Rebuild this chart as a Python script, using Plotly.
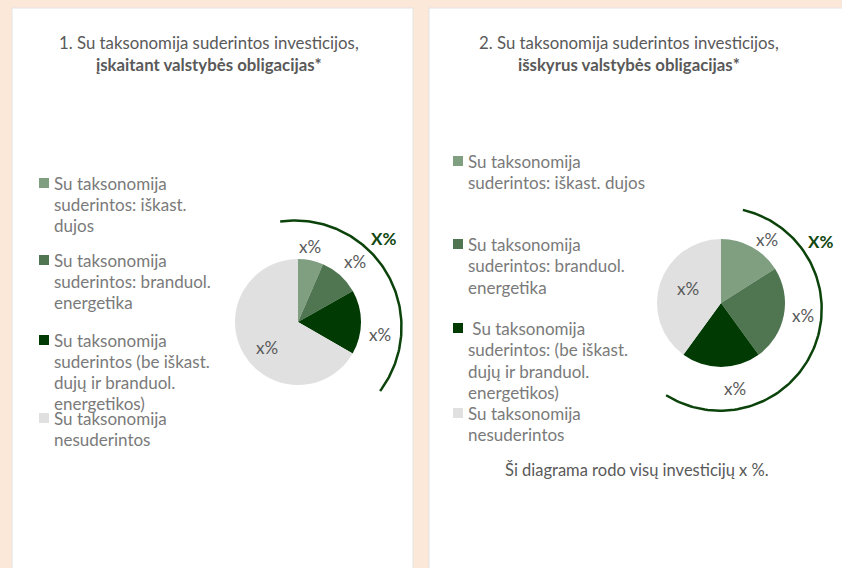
import numpy as np
import plotly.graph_objects as go

# ---------------- data ----------------
left_labels = [
    "Su taksonomija<br>suderintos: iškast.<br>dujos",
    "Su taksonomija<br>suderintos: branduol.<br>energetika",
    "Su taksonomija<br>suderintos (be iškast.<br>dujų ir branduol.<br>energetikos)",
    "Su taksonomija<br>nesuderintos",
]
right_labels = [
    "Su taksonomija<br>suderintos: iškast. dujos",
    "Su taksonomija<br>suderintos: branduol.<br>energetika",
    "\u00a0Su taksonomija<br>suderintos: (be iškast.<br>dujų ir branduol.<br>energetikos)",
    "Su taksonomija<br>nesuderintos",
]
left_values = [6.5, 10.3, 16.5, 66.7]
right_values = [16, 24, 20, 40]
slice_text = ["x%", "x%", "x%", "x%"]
total_text = "X%"
left_title = "1. Su taksonomija suderintos investicijos,<br><b>įskaitant valstybės obligacijas*</b>"
right_title = "2. Su taksonomija suderintos investicijos,<br><b>išskyrus valstybės obligacijas*</b>"
note_text = "Ši diagrama rodo visų investicijų x %."

# ---------------- style ----------------
W, H = 842, 568
FONT = "Lato"
colors = ["#7F9F80", "#4F7551", "#013A02", "#E0E0E0"]
arc_color = "#0B430B"
bg = "#FBE8D9"

panels = [
    dict(labels=left_labels, values=left_values, title=left_title,
         title_x=209, cx=298, cy=322, r=63,
         sq_x=44, txt_x=52, first_y=[183, 260, 340, 418], line=21,
         lab_r=[76, 83, 83, 40], lab_off=[-2.7, 1.7, 8.7, -9],
         arc_c=(295, 327), arc_r=106.5, arc_a=(-8, 127),
         tot_r=125, tot_a=45),
    dict(labels=right_labels, values=right_values, title=right_title,
         title_x=629, cx=721, cy=303, r=64,
         sq_x=458, txt_x=466, first_y=[161, 244, 328, 413], line=21.5,
         lab_r=[78, 83, 87, 36], lab_off=[7, -2, -9, 6],
         arc_c=(720, 309), arc_r=101.7, arc_a=(13, 212),
         tot_r=121, tot_a=56),
]

fig = go.Figure()
annotations = []
shapes = [
    dict(type="rect", xref="x", yref="y", x0=12, x1=413, y0=8, y1=600,
         fillcolor="white", line=dict(color="#E4E4E4", width=1), layer="below"),
    dict(type="rect", xref="x", yref="y", x0=429, x1=860, y0=8, y1=600,
         fillcolor="white", line=dict(color="#E4E4E4", width=1), layer="below"),
]

for p in panels:
    cx, cy, r = p["cx"], p["cy"], p["r"]
    fig.add_trace(go.Pie(
        values=p["values"], labels=[l.replace("<br>", " ") for l in p["labels"]],
        marker=dict(colors=colors, line=dict(width=0)),
        sort=False, direction="clockwise", rotation=0,
        textinfo="none", showlegend=False, hoverinfo="label+value",
        domain=dict(x=[(cx - r) / W, (cx + r) / W],
                    y=[1 - (cy + r) / H, 1 - (cy - r) / H]),
    ))
    # slice labels at mid-angles
    vals = np.array(p["values"], dtype=float)
    cum = np.cumsum(vals) / vals.sum()
    mids = (cum - vals / vals.sum() / 2) * 360
    for i, (m, t) in enumerate(zip(mids, slice_text)):
        a = np.radians(m + p["lab_off"][i])
        annotations.append(dict(
            x=cx + p["lab_r"][i] * np.sin(a), y=cy - p["lab_r"][i] * np.cos(a),
            xref="x", yref="y", text=t, showarrow=False,
            font=dict(family=FONT, size=17, color="#595959")))
    # arc
    th = np.radians(np.linspace(p["arc_a"][0], p["arc_a"][1], 120))
    ax, ay = p["arc_c"]
    fig.add_trace(go.Scatter(
        x=ax + p["arc_r"] * np.sin(th), y=ay - p["arc_r"] * np.cos(th),
        mode="lines", line=dict(color=arc_color, width=2.5),
        hoverinfo="skip", showlegend=False))
    ta = np.radians(p["tot_a"])
    annotations.append(dict(
        x=ax + p["tot_r"] * np.sin(ta), y=ay - p["tot_r"] * np.cos(ta),
        xref="x", yref="y", text="<b>" + total_text + "</b>", showarrow=False,
        font=dict(family=FONT, size=17, color="#124812")))
    # title
    annotations.append(dict(
        x=p["title_x"], y=53, xref="x", yref="y", text=p["title"],
        showarrow=False, align="center",
        font=dict(family=FONT, size=16.8, color="#595959")))
    # legend
    for i, lab in enumerate(p["labels"]):
        y0 = p["first_y"][i]
        fig.add_trace(go.Scatter(
            x=[p["sq_x"]], y=[y0], mode="markers",
            marker=dict(symbol="square", size=10, color=colors[i]),
            hoverinfo="skip", showlegend=False))
        for j, line in enumerate(lab.split("<br>")):
            annotations.append(dict(
                x=p["txt_x"], y=y0 + j * p["line"], xref="x", yref="y",
                text=line, showarrow=False, xanchor="left", yanchor="middle",
                font=dict(family=FONT, size=17, color="#7A7A7A")))

annotations.append(dict(
    x=637, y=470, xref="x", yref="y", text=note_text, showarrow=False,
    font=dict(family=FONT, size=16.5, color="#595959")))

fig.update_layout(
    width=W, height=H, margin=dict(l=0, r=0, t=0, b=0),
    paper_bgcolor=bg, plot_bgcolor="rgba(0,0,0,0)",
    xaxis=dict(range=[0, W], visible=False, fixedrange=True, domain=[0, 1]),
    yaxis=dict(range=[H, 0], visible=False, fixedrange=True, domain=[0, 1]),
    shapes=shapes, annotations=annotations,
)

fig.write_html(
    "out.html",
    config={"displayModeBar": False},
    post_script="document.body.style.margin='0';document.body.style.overflow='hidden';",
)
